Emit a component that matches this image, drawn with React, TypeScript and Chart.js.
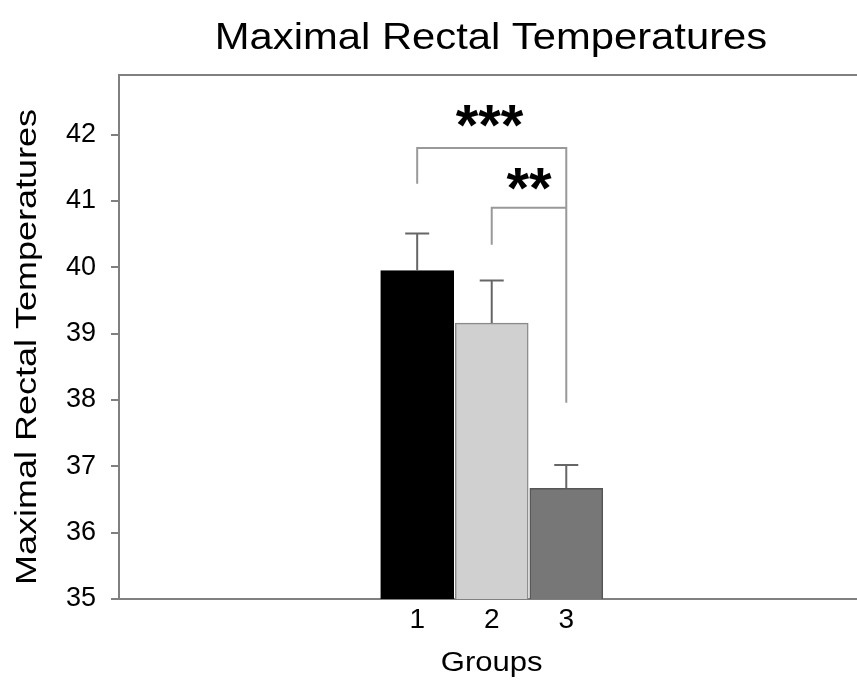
import React, { useEffect, useRef } from "react";
import { Chart, registerables } from "chart.js";

Chart.register(...registerables);

// ---- data ----
const groups = [1, 2, 3];
const groupLabels = ["1", "2", "3"];
const means = [39.95, 39.16, 36.67];
const errUpper = [0.56, 0.64, 0.35];
const yTicks = [35, 36, 37, 38, 39, 40, 41, 42];
const barColors = ["#000000", "#d0d0d0", "#777777"];
const barBorders = ["#000000", "#8a8a8a", "#555555"];

const titleText = "Maximal Rectal Temperatures";
const yTitleText = "Maximal Rectal Temperatures";
const xTitleText = "Groups";

// significance brackets (data units)
const bracketFrom = [1, 2];
const bracketTo = [3, 3];
const bracketLevel = [41.8, 40.9];
const bracketLeftEnd = [41.26, 40.34];
const bracketRightEnd = [37.96, 40.9];
const starText = ["***", "**"];
const starX = [1.97, 2.5];
const starY = [42.26, 41.32];

const FONT = "'Liberation Sans', Arial, sans-serif";

const annotations = {
  id: "annotations",
  afterDatasetsDraw(chart: any) {
    const { ctx, scales, chartArea } = chart;
    const xs = scales.x;
    const ys = scales.y;
    ctx.save();
    // top frame line
    ctx.strokeStyle = "#808080";
    ctx.lineWidth = 2;
    ctx.beginPath();
    ctx.moveTo(chartArea.left, chartArea.top);
    ctx.lineTo(chartArea.right, chartArea.top);
    ctx.stroke();

    // error bars
    ctx.strokeStyle = "#666666";
    ctx.lineWidth = 2;
    groups.forEach((g, i) => {
      const px = xs.getPixelForValue(g);
      const y0 = ys.getPixelForValue(means[i]);
      const y1 = ys.getPixelForValue(means[i] + errUpper[i]);
      ctx.beginPath();
      ctx.moveTo(px, y0);
      ctx.lineTo(px, y1);
      ctx.moveTo(px - 12, y1);
      ctx.lineTo(px + 12, y1);
      ctx.stroke();
    });

    // brackets
    ctx.strokeStyle = "#999999";
    ctx.lineWidth = 2;
    bracketFrom.forEach((f, i) => {
      const xl = xs.getPixelForValue(f);
      const xr = xs.getPixelForValue(bracketTo[i]);
      const yl = ys.getPixelForValue(bracketLevel[i]);
      ctx.beginPath();
      ctx.moveTo(xl, ys.getPixelForValue(bracketLeftEnd[i]));
      ctx.lineTo(xl, yl);
      ctx.lineTo(xr, yl);
      ctx.lineTo(xr, ys.getPixelForValue(bracketRightEnd[i]));
      ctx.stroke();
    });

    // stars
    ctx.fillStyle = "#000000";
    ctx.font = `bold 58px ${FONT}`;
    ctx.textAlign = "center";
    ctx.textBaseline = "alphabetic";
    starText.forEach((s, i) => {
      const px = xs.getPixelForValue(starX[i]);
      const py = ys.getPixelForValue(starY[i]);
      ctx.fillText(s, px, py + 0.48 * 58);
    });
    ctx.restore();
  },
  afterDraw(chart: any) {
    const { ctx, chartArea } = chart;
    ctx.save();
    ctx.fillStyle = "#000000";
    ctx.textAlign = "center";
    ctx.textBaseline = "alphabetic";
    // main title
    ctx.save();
    ctx.font = `36px ${FONT}`;
    ctx.translate((chartArea.left + chartArea.right) / 2 + 3, 49);
    ctx.scale(1.16, 1);
    ctx.fillText(titleText, 0, 0);
    ctx.restore();
    // y title
    ctx.save();
    ctx.font = `30px ${FONT}`;
    ctx.translate(36, 347);
    ctx.rotate(-Math.PI / 2);
    ctx.scale(1.2, 1);
    ctx.fillText(yTitleText, 0, 0);
    ctx.restore();
    // x title
    ctx.save();
    ctx.font = `27px ${FONT}`;
    ctx.translate(chart.scales.x.getPixelForValue(2), 671);
    ctx.scale(1.15, 1);
    ctx.fillText(xTitleText, 0, 0);
    ctx.restore();
    ctx.restore();
  },
};

export default function App() {
  const ref = useRef<HTMLCanvasElement | null>(null);
  useEffect(() => {
    document.body.style.margin = "0";
    const canvas = ref.current!;
    const chart = new Chart(canvas, {
      type: "bar",
      data: {
        datasets: [
          {
            data: groups.map((g, i) => ({ x: g, y: means[i] })),
            backgroundColor: barColors,
            borderColor: barBorders,
            borderWidth: 1.5,
            barThickness: 73,
          },
        ],
      },
      plugins: [annotations],
      options: {
        animation: false,
        responsive: false,
        devicePixelRatio: 1,
        layout: { padding: { top: 75, right: 0, left: 0, bottom: 0 } },
        plugins: {
          legend: { display: false },
          title: { display: false },
          tooltip: { enabled: false },
        },
        scales: {
          x: {
            type: "linear",
            offset: false,
            min: -3,
            max: 6.9,
            afterBuildTicks: (s: any) => {
              s.ticks = groups.map((g) => ({ value: g }));
            },
            afterFit: (s: any) => {
              s.height = 87;
            },
            ticks: {
              callback: (v: any) => groupLabels[groups.indexOf(Number(v))] ?? "",
              font: { family: FONT, size: 28 },
              color: "#000000",
              padding: 4,
              maxRotation: 0,
              autoSkip: false,
            },
            grid: { display: false, drawTicks: false },
            border: { display: true, color: "#808080", width: 2 },
          },
          y: {
            min: 35,
            max: 42.9,
            afterBuildTicks: (s: any) => {
              s.ticks = yTicks.map((v) => ({ value: v }));
            },
            afterFit: (s: any) => {
              s.width = 119;
            },
            ticks: {
              font: { family: FONT, size: 27 },
              color: "#000000",
              padding: 15,
            },
            grid: {
              drawOnChartArea: false,
              drawTicks: true,
              tickLength: 8,
              color: "#808080",
              lineWidth: 2,
            },
            border: { display: true, color: "#808080", width: 2 },
          },
        },
      },
    });
    return () => chart.destroy();
  }, []);
  return (
    <div style={{ width: 857, height: 686 }}>
      <canvas ref={ref} width={857} height={686} />
    </div>
  );
}
